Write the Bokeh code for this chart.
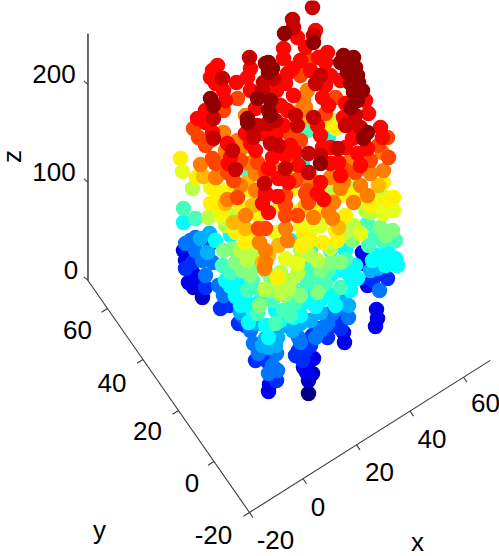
from bokeh.plotting import figure
from bokeh.embed import file_html
from bokeh.resources import INLINE
from bokeh.models import ColumnDataSource, LinearColorMapper, Range1d
from bokeh.core.properties import value

# Point clouds: (horizontal, vertical) view-plane positions,
# one list per colour (z) band, in paint order.
navy = [(308,393)]
dkblue = [(308,380),(312,373),(193,287),(202,297),(190,268)]
blue = [(268,391),(303,367),(313,358),(269,384),(343,332),(344,342),(376,309),(375,326),(377,318),
        (362,263),(362,252),(367,285),(185,260),(188,282),(192,272),(198,280),(306,372),(183,250)]
royal = [(276,380),(255,360),(267,361),(298,350),(295,355),(302,360),(310,345),(327,337),(317,328),
         (185,268),(192,262),(205,287),(210,243),(220,308),(229,305),(238,323),(337,317),(372,280),(387,278),
         (245,325),(305,350),(340,328),(225,300),(262,355),(335,325),(312,335),(380,272)]
azure = [(268,373),(277,370),(258,353),(276,353),(298,337),(315,337),(327,323),(348,317),(332,313),
         (185,243),(195,237),(202,260),(212,262),(205,275),(223,295),(218,285),(242,315),(379,290),
         (253,343),(250,330),(325,325),(330,313),(300,342),(195,250),(190,240),(272,365),(320,330),(345,310)]
sky = [(265,338),(277,337),(268,347),(207,252),(209,233),(292,330),(300,323),(370,270),(377,268),
       (348,305),(257,323),(310,320),(340,300),(200,238),(262,345),(285,325),(275,345),(320,312),(240,312)]
cyan = [(183,222),(230,286),(240,305),(248,322),(268,337),(397,265),(395,258),(383,260),(372,260),
        (387,250),(293,317),(303,302),(315,306),(332,295),(350,290),(238,273),(357,278),(245,300),
        (260,300),(275,310),(290,305),(300,315),(320,300),(328,137),(302,163),(215,240),(230,235),
        (290,240),(310,250),(345,250),(355,265),(225,280),(385,265),(376,255),(252,310),(305,268),
        (330,275),(335,305),(280,320),(240,285),(265,325),(342,270),(235,296),(310,292),(350,278),(330,250)]
teal = [(183,208),(195,218),(222,265),(247,290),(252,280),(257,313),(275,323),(295,302),(283,310),
        (307,280),(325,283),(340,287),(345,259),(367,223),(368,245),(395,240),(382,240),(307,130),
        (248,173),(328,270),(310,270),(375,235),(300,290),(272,300),(320,280),(230,272),(260,290),(290,315),(250,255)]
green = [(380,227),(392,230),(223,250),(242,270),(259,305),(270,277),(317,292),(352,240),(330,262),
         (300,295),(255,265),(270,290),(235,262),(250,275),(232,248),(285,295),(385,235),(265,270),(340,262),(320,270)]
lime = [(240,250),(247,260),(264,289),(280,293),(288,288),(297,273),(317,260),(208,217),(192,188),
        (353,225),(365,210),(385,197),(352,185),(330,187),(333,120),(290,280),(280,272),(232,215),(300,250),
        (278,283),(310,255),(345,232),(225,225),(255,250),(370,212),(295,262),(330,248)]
ylime = [(182,171),(285,258),(297,263),(383,213),(393,210),(360,233),(210,187),(320,225),(220,215),(300,225),(375,200),(275,232),(312,228)]
yellow = [(180,158),(277,277),(245,242),(235,232),(215,203),(196,177),(217,195),(210,203),(303,233),
          (301,245),(322,242),(337,240),(345,215),(387,200),(393,197),(383,182),(292,173),(327,123),
          (335,128),(213,188),(240,205),(300,210),(320,210),(350,195),(370,205),(250,190),(290,190),
          (240,225),(258,215),(310,240),(335,230),(226,190),(280,205),(340,195),(222,210),(255,235),(360,195)]
gold = [(233,222),(225,203),(203,176),(278,245),(338,227),(262,262),(378,185),(305,117),(247,182),(245,228),(252,205),(268,255),(305,205)]
orange = [(264,268),(245,215),(259,242),(265,250),(287,240),(313,217),(328,212),(333,202),(332,218),
          (353,202),(367,195),(200,164),(216,177),(227,199),(215,177),(285,228),(223,132),(237,140),
          (220,160),(255,173),(273,167),(293,157),(248,163),(242,147),(245,115),(305,107),(307,90),
          (303,100),(330,177),(343,182),(382,152),(383,170),(370,173),(240,185),(350,160),(300,110),
          (225,150),(312,180),(360,185),(265,262),(340,188),(300,178),(255,190)]
redorange = [(237,197),(258,228),(265,228),(285,215),(297,215),(285,205),(305,193),(308,202),(198,137),
             (193,128),(205,145),(212,158),(215,163),(223,110),(237,98),(233,180),(227,172),(257,162),
             (307,190),(325,113),(303,68),(335,97),(370,160),(388,157),(387,137),(355,172),(280,130),
             (300,140),(295,180),(310,60),(210,140),(290,135),(345,170),(265,172),(300,75),(240,160),(285,195),(378,145)]
red = [(268,212),(262,203),(265,195),(277,196),(317,193),(323,199),(283,48),(283,58),(327,52),(318,57),
       (325,62),(217,65),(212,70),(210,77),(215,83),(223,90),(236,82),(250,68),(247,77),(276,90),
       (287,73),(285,83),(293,95),(287,110),(283,125),(322,97),(317,125),(320,135),(322,147),(338,162),
       (330,163),(308,172),(340,175),(320,182),(365,100),(368,113),(352,138),(367,148),(357,153),(380,127),
       (382,137),(345,103),(340,80),(343,117),(197,118),(205,110),(212,132),(227,143),(230,157),(228,163),
       (245,133),(250,143),(272,157),(285,155),(278,178),(288,182),(265,192),(262,133),(315,30),(297,37),
       (305,47),(292,68),(310,70),(325,85),(255,108),(290,145),(268,168),(225,100),(205,122),
       (350,125),(360,165),(300,60),(280,105),(328,105),(295,152),(250,90),(330,75),(330,147),(345,147),(275,135),(255,150),(298,165)]
dkred = [(312,7),(292,19),(293,27),(249,57),(313,35),(222,78),(315,83),(320,75),(263,82),(273,78),
         (295,115),(297,125),(313,117),(308,153),(337,148),(308,172),(213,118),(213,138),(232,150),(235,169),
         (253,137),(262,90),(278,145),(270,143),(285,168),(264,183),(360,127),(355,115),(257,125),(267,123),
         (345,125),(275,120),(320,155),(250,125)]
maroon = [(284,33),(313,42),(268,62),(265,63),(272,68),(268,72),(257,98),(270,100),(268,110),(270,115),
          (343,55),(353,57),(340,62),(350,62),(355,67),(347,72),(357,75),(358,82),(350,83),(362,90),
          (353,92),(357,100),(350,107),(367,132),(363,138),(320,163),(210,98),(213,105),(247,118),(247,122)]

bands = [navy, dkblue, blue, royal, azure, sky, cyan, teal, green, lime, ylime, yellow, gold,
         orange, redorange, red, dkred, maroon]
band_z = [0, 17, 26, 41, 58, 72, 90, 106, 120, 134, 144, 153, 166, 180, 194, 209, 223, 236]

x_ticks = [-20, 0, 20, 40, 60]
y_ticks = [-20, 0, 20, 40, 60]
z_ticks = [0, 100, 200]
x_top, y_top, z_top = 70, 71, 252

def jet(t):
    f = lambda a: max(0.0, min(1.0, a))
    r = f(min(4*t-1.5, -4*t+4.5))
    g = f(min(4*t-0.5, -4*t+3.5))
    b = f(min(4*t+0.5, -4*t+2.5))
    return "#%02x%02x%02x" % (round(r*255), round(g*255), round(b*255))

palette = [jet(i/255) for i in range(256)]
mapper = LinearColorMapper(palette=palette, low=0, high=240)

def project(x, y, z):
    return (249 + (x+20)*2.675 - (y+20)*1.775,
            512 - (x+20)*1.69 - (y+20)*2.55 - 0.98*z)

p = figure(width=499, height=556, x_range=Range1d(0, 499), y_range=Range1d(556, 0),
           output_backend="svg", toolbar_location=None, min_border=0)
p.axis.visible = False
p.grid.visible = False
p.outline_line_color = None
p.background_fill_color = "white"

hs, vs, zs = [], [], []
for band, z in zip(bands, band_z):
    for h, v in band:
        hs.append(h); vs.append(v); zs.append(z)
src = ColumnDataSource(dict(h=hs, v=vs, z=zs))
p.scatter("h", "v", source=src, size=15.5, line_color=None,
          fill_color={"field": "z", "transform": mapper})

AX = "#3a3a3a"
def seg(a, b, w=1.1):
    p.line([a[0], b[0]], [a[1], b[1]], line_color=AX, line_width=w)

seg(project(-20, y_top, 0), project(-20, y_top, z_top), 1.5)
seg(project(-20, -20, 0), project(-20, y_top, 0))
seg(project(-20, -20, 0), project(x_top, -20, 0))

FONT = value("Liberation Sans")
def label(h, v, s, angle=0, size="26px", baseline="middle"):
    p.text([h], [v], text=[s], text_font=FONT, text_font_size=size, text_align="center",
           text_baseline=baseline, text_color="#000000", angle=angle)

x_lab = {-20: (26, 27), 0: (15, 28), 20: (23, 27), 40: (22, 28), 60: (22, 26)}
for t in x_ticks:
    a = project(t, -20, 0)
    seg(a, (a[0]+3.5, a[1]+5))
    label(a[0]+x_lab[t][0], a[1]+x_lab[t][1], str(t))
y_lab = {-20: (-36, 22), 0: (-22, 21), 20: (-31, 20), 40: (-31, 23), 60: (-30, 21)}
for t in y_ticks:
    a = project(-20, t, 0)
    seg(a, (a[0]-6, a[1]+3.7))
    label(a[0]+y_lab[t][0], a[1]+y_lab[t][1], str(t))
for t in z_ticks:
    a = project(-20, y_top, t)
    seg(a, (a[0]-4, a[1]-3.5))
    label(a[0]-(10 if t == 0 else 34 if t == 100 else 34) - (0 if t else 7), a[1]-10, str(t))

label(11, 156, "z", angle=1.5708, baseline="alphabetic")
label(99, 529, "y")
label(417, 541, "x", baseline="alphabetic")

open("out.html", "w").write(file_html(p, INLINE))
